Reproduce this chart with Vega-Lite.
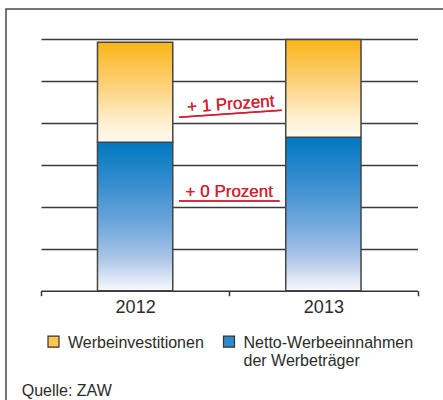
{
  "$schema": "https://vega.github.io/schema/vega-lite/v6.json",
  "width": 437,
  "height": 391,
  "autosize": {"type": "none"},
  "padding": {"left": 6, "top": 9, "right": 0, "bottom": 0},
  "background": "white",
  "config": {
    "view": {"fill": "#dfe9f6", "stroke": "#4a4a4a", "strokeWidth": 1.5, "strokeDash": [437, 828, 392]},
    "font": "Liberation Sans",
    "axisY": {"grid": true, "gridColor": "#3a3a3a", "gridWidth": 1.3, "labels": false, "ticks": false, "domain": false, "title": null},
    "legend": {
      "symbolSize": 121,
      "symbolStrokeColor": "#333333",
      "symbolStrokeWidth": 1.2,
      "symbolOpacity": 1,
      "labelFont": "Liberation Sans",
      "labelFontSize": 16,
      "labelColor": "#2b2b2b",
      "labelLimit": 0,
      "labelOffset": 6.5,
      "columnPadding": 16.5,
      "padding": 0
    }
  },
  "title": {
    "text": "Quelle: ZAW",
    "orient": "bottom",
    "anchor": "start",
    "frame": "group",
    "offset": -4,
    "dx": 15.7,
    "baseline": "alphabetic",
    "font": "Liberation Sans",
    "fontSize": 16,
    "fontWeight": "normal",
    "color": "#2b2b2b"
  },
  "data": {
    "values": [
      {"Jahr": "2012", "Netto": 17.7, "Investitionen": 29.6},
      {"Jahr": "2013", "Netto": 18.3, "Investitionen": 29.95}
    ]
  },
  "layer": [
    {
      "encoding": {
        "x": {
          "field": "Jahr",
          "type": "nominal",
          "scale": {"range": [35, 411.5], "paddingInner": 0, "paddingOuter": 0},
          "axis": {
            "orient": "bottom",
            "offset": -109.3,
            "title": null,
            "labelAngle": 0,
            "labelFont": "Liberation Sans",
            "labelFontSize": 18,
            "labelColor": "#2b2b2b",
            "labelPadding": 3,
            "tickBand": "extent",
            "tickSize": 5,
            "tickColor": "#333333",
            "tickWidth": 1.5,
            "domainColor": "#333333",
            "domainWidth": 1.5,
            "grid": false
          }
        }
      },
      "layer": [
        {
          "mark": {
            "type": "bar", "stroke": "#454545", "strokeWidth": 1.5, "width": {"band": 0.4},
            "fill": {"gradient": "linear", "x1": 0, "y1": 0, "x2": 0, "y2": 1, "stops": [
              {"offset": 0, "color": "#0078c0"},
              {"offset": 0.3, "color": "#3a8fd0"},
              {"offset": 0.55, "color": "#6da7db"},
              {"offset": 0.78, "color": "#abc4e7"},
              {"offset": 1, "color": "#f8f9fc"}
            ]}
          },
          "encoding": {
            "y": {
              "field": "Netto",
              "type": "quantitative",
              "scale": {"domain": [0, 30], "range": [281.7, 30], "nice": false},
              "axis": {"values": [5, 10, 15, 20, 25, 30], "grid": true, "gridColor": "#3a3a3a", "gridWidth": 1.3, "labels": false, "ticks": false, "domain": false, "title": null}
            }
          }
        },
        {
          "mark": {
            "type": "bar", "stroke": "#454545", "strokeWidth": 1.5, "width": {"band": 0.4},
            "fill": {"gradient": "linear", "x1": 0, "y1": 0, "x2": 0, "y2": 1, "stops": [
              {"offset": 0, "color": "#fbb519"},
              {"offset": 0.45, "color": "#fdd27e"},
              {"offset": 0.8, "color": "#feefcf"},
              {"offset": 1, "color": "#fffbf1"}
            ]}
          },
          "encoding": {
            "y": {
              "field": "Investitionen",
              "type": "quantitative",
              "scale": {"domain": [0, 30], "range": [281.7, 30], "nice": false}
            },
            "y2": {"field": "Netto"}
          }
        }
      ]
    },
    {
      "layer": [
        {
          "mark": {"type": "rule", "stroke": "#d2202f", "strokeWidth": 1.5},
          "encoding": {
            "x": {"datum": 0.733, "type": "quantitative", "scale": {"domain": [0, 2], "range": [35, 411.5], "nice": false, "zero": false}, "axis": null},
            "x2": {"datum": 1.279},
            "y": {"datum": 20.67, "type": "quantitative"},
            "y2": {"datum": 21.5}
          }
        },
        {
          "mark": {"type": "text", "text": "+ 1 Prozent", "color": "#d2202f", "font": "Liberation Sans", "fontSize": 17, "align": "center", "baseline": "alphabetic", "angle": 356},
          "encoding": {
            "x": {"datum": 1.01, "type": "quantitative", "scale": {"domain": [0, 2], "range": [35, 411.5], "nice": false, "zero": false}, "axis": null},
            "y": {"datum": 21.6, "type": "quantitative"}
          }
        },
        {
          "mark": {"type": "rule", "stroke": "#d2202f", "strokeWidth": 1.5},
          "encoding": {
            "x": {"datum": 0.733, "type": "quantitative", "scale": {"domain": [0, 2], "range": [35, 411.5], "nice": false, "zero": false}, "axis": null},
            "x2": {"datum": 1.267},
            "y": {"datum": 10.69, "type": "quantitative"},
            "y2": {"datum": 10.69}
          }
        },
        {
          "mark": {"type": "text", "text": "+ 0 Prozent", "color": "#d2202f", "font": "Liberation Sans", "fontSize": 17, "align": "center", "baseline": "alphabetic"},
          "encoding": {
            "x": {"datum": 1.0, "type": "quantitative", "scale": {"domain": [0, 2], "range": [35, 411.5], "nice": false, "zero": false}, "axis": null},
            "y": {"datum": 11.2, "type": "quantitative"}
          }
        }
      ]
    },
    {
      "data": {"values": []},
      "mark": {"type": "square", "opacity": 1, "filled": true},
      "encoding": {
        "fill": {
          "datum": "Werbeinvestitionen",
          "type": "nominal",
          "scale": {
            "domain": ["Werbeinvestitionen", "Netto-Werbeeinnahmen der Werbeträger"],
            "range": ["#fcc650", "#2f88cc"]
          },
          "legend": {
            "title": null,
            "orient": "none",
            "legendX": 39.5,
            "legendY": 317.7,
            "direction": "horizontal",
            "symbolType": "M-1,0.27H1V2.27H-1Z",
            "symbolSize": 121,
            "symbolStrokeColor": "#333333",
            "symbolStrokeWidth": 1.2,
            "symbolOpacity": 1,
            "labelBaseline": "top",
            "labelExpr": "datum.label == 'Netto-Werbeeinnahmen der Werbeträger' ? ['Netto-Werbeeinnahmen', 'der Werbeträger'] : [datum.label, ' ']"
          }
        }
      }
    }
  ],
  "resolve": {"scale": {"x": "independent"}}
}
